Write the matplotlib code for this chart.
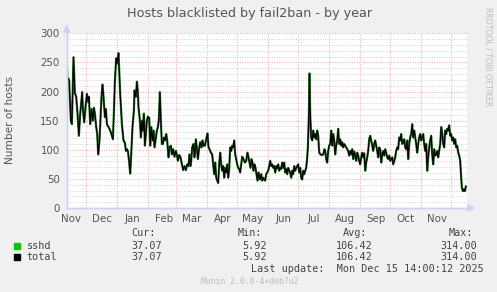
import datetime as dt
import matplotlib
matplotlib.use("Agg")
import matplotlib.pyplot as plt
from matplotlib.ticker import MultipleLocator, FixedLocator, NullFormatter, FixedFormatter
from matplotlib.patches import Rectangle, Polygon

# ---------------- data ----------------
start = dt.datetime(2024, 11, 11, 10)
month_starts = [dt.datetime(2024, 12, 1)] + [dt.datetime(2025, m, 1) for m in range(1, 13)]
month_labels = ["Nov", "Dec", "Jan", "Feb", "Mar", "Apr", "May", "Jun", "Jul", "Aug", "Sep", "Oct", "Nov"]

days = [0, 0.8, 1.8, 2.5, 2.8, 4.2, 5.2, 6.8, 8.2, 8.8, 9.5, 10.8, 12.2, 13.5, 15.5, 16.2, 17.5, 18.8, 20.2,
        21.5, 22.2, 23.5, 24.8, 26.2, 27.2, 28.2, 29.5, 30.5, 31.5, 32.8, 34.8, 35.8, 36.8, 38.2, 39.2, 40.2,
        42.8, 44.2, 46.2, 47.2, 48.2, 49.5, 50.2, 51.8, 53.5, 55.2, 56.8, 58.2, 59.2, 60.2, 61.2, 62.5,
        63.5, 64.5, 65.8, 67.2, 67.8, 69.2, 70.2, 71.2, 71.8, 73.2, 74.2, 75.2, 76.2, 77.2, 78.2, 79.2, 80.2,
        81.2, 82.5, 83.5, 84.5, 85.8, 86.8, 87.8, 89.2, 90.2, 91.2, 92.2, 93.2, 94.2, 95.2, 96.2, 97.2, 98.5,
        99.5, 100.5, 101.8, 102.8, 104.2, 105.2, 106.5, 107.8, 109.2, 110.2, 111.2, 112.5, 113.8, 115.2,
        116.5, 117.8, 119.2, 120.5, 121.8, 122.8, 123.8, 124.5, 125.5, 126.8, 127.8, 129.2, 130.2, 131.2,
        132.5, 133.5, 134.8, 135.8, 136.8, 138.2, 139.5, 140.8, 141.8, 142.8, 144.2, 145.5, 146.5, 147.5,
        148.5, 149.5, 151.5, 152.5, 153.5, 154.5, 155.5, 156.5, 157.5, 158.5, 159.5, 160.5, 161.5, 162.5,
        163.5, 164.5, 165.5, 166.5, 167.5, 168.5, 169.5, 170.5, 171.5, 172.5, 173.5, 174.5, 175.5, 176.8,
        178.2, 179.5, 180.8, 181.8, 182.8, 183.8, 184.8, 185.8, 186.8, 187.8, 188.8, 189.8, 190.8, 191.8,
        192.8, 193.5, 194.5, 195.5, 196.5, 197.5, 198.5, 199.5, 200.5, 201.5, 202.5, 203.5, 204.5, 205.5,
        206.5, 207.5, 208.5, 209.5, 210.5, 211.5, 212.5, 213.5, 214.5, 215.5, 216.5, 217.5, 218.5, 219.5,
        220.5, 221.5, 222.5, 223.5, 224.5, 225.5, 226.5, 227.5, 228.5, 229.5, 230.5, 231.5, 232.5, 233.5,
        234.5, 235.5, 236.5, 237.5, 238.5, 239.5, 240.5, 241.2, 242.2, 242.8, 243.5, 244.5, 245.5, 246.5,
        247.5, 248.5, 249.5, 250.5, 251.5, 252.5, 253.8, 255.2, 256.5, 257.8, 258.5, 259.5, 260.5, 261.5,
        262.5, 263.5, 264.5, 265.5, 266.5, 267.5, 268.5, 269.5, 270.5, 271.5, 272.5, 273.5, 274.5, 275.5,
        276.5, 277.5, 278.5, 279.5, 280.5, 281.5, 282.5, 283.5, 284.5, 285.5, 286.5, 287.5, 288.5, 289.5,
        290.5, 291.5, 292.5, 293.5, 294.5, 295.5, 296.5, 297.5, 298.5, 299.5, 300.5, 301.5, 302.5, 303.5,
        304.5, 305.5, 306.5, 307.5, 308.5, 309.5, 310.5, 311.5, 312.5, 313.5, 314.5, 315.5, 316.5, 317.5,
        318.5, 319.5, 320.5, 321.5, 322.5, 323.5, 324.5, 325.5, 326.5, 327.5, 328.5, 329.5, 330.5, 331.5,
        332.5, 333.5, 334.5, 335.5, 336.5, 337.5, 338.5, 339.5, 340.5, 341.5, 342.5, 343.5, 344.5, 345.5,
        346.5, 347.5, 348.5, 349.5, 350.5, 351.5, 352.5, 353.5, 354.5, 355.5, 356.5, 357.5, 358.5, 359.5,
        360.5, 361.5, 362.5, 363.5, 364.5, 365.5, 366.5, 367.5, 368.5, 369.5, 370.5, 371.5, 372.5, 373.5,
        374.5, 375.5, 376.5, 377.5, 378.5, 379.5, 380.5, 381.5, 382.5, 383.5, 384.5, 385.5, 386.5, 387.5,
        388.5, 389.5, 390.5, 391.5, 392.5, 393.5, 394.5, 395.2, 396.2, 397.2, 398.2, 399.2]

hosts = [250, 222, 222, 219, 202, 150, 144, 259, 196, 195, 191, 162, 124, 162, 199, 170, 147, 173, 196,
         182, 191, 144, 170, 150, 172, 162, 139, 127, 92, 116, 191, 212, 191, 156, 170, 144,
         136, 130, 118, 165, 219, 257, 248, 266, 196, 144, 116, 112, 98, 101, 98, 78,
         59, 92, 139, 167, 202, 191, 217, 199, 173, 150, 121, 150, 133, 162, 107, 127, 150,
         157, 155, 107, 139, 116, 133, 104, 121, 133, 139, 153, 199, 147, 110, 110, 121, 116,
         127, 116, 87, 104, 107, 92, 101, 88, 98, 91, 81, 91, 87, 75,
         65, 72, 65, 75, 72, 92, 72, 81, 104, 110, 87, 118, 101, 84,
         104, 113, 104, 116, 107, 107, 118, 128, 104, 101, 95, 92, 75, 58,
         78, 52, 43, 75, 95, 75, 64, 72, 52, 69, 61, 75, 52, 67,
         104, 98, 107, 104, 116, 92, 84, 75, 69, 67, 61, 75, 88, 84,
         78, 81, 95, 87, 78, 69, 84, 78, 64, 75, 69, 58, 47, 61,
         52, 49, 58, 47, 52, 49, 47, 58, 61, 64, 72, 81, 72, 75,
         69, 72, 61, 72, 68, 75, 64, 69, 67, 78, 69, 78, 61, 67,
         58, 69, 64, 61, 52, 64, 58, 72, 64, 69, 72, 75, 61, 69,
         52, 49, 64, 58, 64, 69, 87, 104, 162, 231, 162, 121, 116, 133,
         121, 127, 118, 133, 124, 95, 92, 91, 92, 101, 98, 84, 78, 98,
         107, 110, 133, 107, 127, 116, 92, 107, 116, 136, 110, 118, 107, 113,
         104, 110, 107, 104, 101, 98, 90, 98, 92, 101, 84, 97, 90, 81,
         95, 90, 81, 75, 87, 95, 87, 94, 64, 78, 87, 98, 118, 124,
         116, 107, 98, 110, 116, 107, 98, 87, 104, 101, 78, 92, 98, 90,
         101, 95, 87, 84, 90, 81, 84, 87, 75, 81, 87, 98, 104, 101,
         121, 116, 127, 110, 113, 118, 104, 101, 116, 84, 110, 121, 127, 144,
         121, 133, 121, 110, 95, 110, 121, 127, 116, 121, 127, 110, 98, 110,
         64, 87, 104, 116, 124, 92, 75, 101, 90, 92, 98, 87, 98, 110,
         139, 127, 110, 104, 133, 127, 136, 133, 142, 124, 127, 116, 121, 110,
         118, 104, 107, 95, 90, 81, 52, 35, 29, 32, 29, 37.07]

series_names = ["sshd", "total"]
series_colors = ["#00CC00", "#000000"]
cur_vals = ["37.07", "37.07"]
min_vals = ["5.92", "5.92"]
avg_vals = ["106.42", "106.42"]
max_vals = ["314.00", "314.00"]

title = "Hosts blacklisted by fail2ban - by year"
ylabel = "Number of hosts"
last_update = "Last update:  Mon Dec 15 14:00:12 2025"
footer = "Munin 2.0.6-4+deb7u2"
watermark = "RRDTOOL / TOBI OETIKER"

# ---------------- figure ----------------
W, H = 497, 292
fig = plt.figure(figsize=(W / 100, H / 100), dpi=100, facecolor="#F0F0F0")

def fx(px):
    return px / W

def fy(py):
    return 1 - py / H

left, right, top, bottom = 66.7, 466.7, 33.3, 208.0
ax = fig.add_axes([fx(left), fy(bottom), (right - left) / W, (bottom - top) / H])
ax.set_facecolor("white")
ax.set_xlim(0, 400)
ax.set_ylim(0, 300)

month_pos = [(m - start).total_seconds() / 86400 for m in month_starts]
label_pos = [month_pos[0] - 15.5] + [p + 15.5 for p in month_pos[:-1]]

# grids
dot = (0, (1, 1.5))
ax.yaxis.set_major_locator(MultipleLocator(50))
ax.yaxis.set_minor_locator(MultipleLocator(10))
ax.xaxis.set_major_locator(FixedLocator(month_pos))
ax.xaxis.set_major_formatter(NullFormatter())
ax.xaxis.set_minor_locator(FixedLocator(label_pos))
ax.xaxis.set_minor_formatter(FixedFormatter(month_labels))
ax.grid(which="minor", axis="y", color="#D4D4D4", linestyle=dot, linewidth=0.7)
ax.grid(which="major", axis="both", color="#F2A6A6", linestyle=dot, linewidth=0.7)
ax.set_axisbelow(True)

ax.tick_params(axis="both", which="both", length=0, colors="#555555", labelsize=7.4)
ax.tick_params(axis="y", pad=5)
ax.tick_params(axis="x", which="minor", pad=4)
for lbl in ax.get_xticklabels(minor=True):
    lbl.set_clip_on(False)

for s in ["top", "right"]:
    ax.spines[s].set_visible(False)
for s in ["left", "bottom"]:
    ax.spines[s].set_color("#D0D0FA")
    ax.spines[s].set_linewidth(1.0)
    ax.spines[s].set_zorder(0.5)

# axis arrow heads (in figure pixels)
ac = "#D0D0FA"
xa = [(right + 8) / W, (right + 1) / W, (right + 1) / W]
ya = [fy(bottom), fy(bottom - 3), fy(bottom + 3)]
fig.patches.append(Polygon(list(zip(xa, ya)), closed=True, transform=fig.transFigure, color=ac))
xb = [fx(left), fx(left - 3), fx(left + 3)]
yb = [fy(top - 8), fy(top - 1), fy(top - 1)]
fig.patches.append(Polygon(list(zip(xb, yb)), closed=True, transform=fig.transFigure, color=ac))
fig.add_artist(matplotlib.lines.Line2D([fx(left), fx(left)], [fy(bottom), fy(top - 2)], color=ac, lw=1.0))
fig.add_artist(matplotlib.lines.Line2D([fx(left), fx(right + 2)], [fy(bottom), fy(bottom)], color=ac, lw=1.0))

# data lines
ax.plot(days, hosts, color="#2E7D2E", linewidth=1.6, solid_joinstyle="round", zorder=3)
ax.plot(days, hosts, color=series_colors[1], linewidth=0.85, solid_joinstyle="round", zorder=4)

# texts
fig.text(fx(250), fy(13), title, ha="center", va="center", fontsize=9.2, color="#555555")
fig.text(fx(10), fy(120), ylabel, ha="center", va="center", rotation=90, fontsize=7.6, color="#555555")
fig.text(fx(488), fy(57), watermark, ha="center", va="center", rotation=-90, fontsize=5.6, color="#BBBBBB")

mono = "DejaVu Sans Mono"
fs = 7.3
tc = "#444444"
fig.text(fx(131.7), fy(233.3), "Cur:", ha="left", va="center", family=mono, fontsize=fs, color=tc)
fig.text(fx(237.7), fy(233.3), "Min:", ha="left", va="center", family=mono, fontsize=fs, color=tc)
fig.text(fx(343.3), fy(233.3), "Avg:", ha="left", va="center", family=mono, fontsize=fs, color=tc)
fig.text(fx(448.3), fy(233.3), "Max:", ha="left", va="center", family=mono, fontsize=fs, color=tc)
rows_y = [245.7, 257.3]
for i, name in enumerate(series_names):
    y = rows_y[i]
    fig.patches.append(Rectangle((fx(14), fy(y + 3)), 6 / W, 6 / H,
                                 transform=fig.transFigure, color=series_colors[i]))
    fig.text(fx(26.5), fy(y), name, ha="left", va="center", family=mono, fontsize=fs, color=tc)
    fig.text(fx(161.7), fy(y), cur_vals[i], ha="right", va="center", family=mono, fontsize=fs, color=tc)
    fig.text(fx(267.3), fy(y), min_vals[i], ha="right", va="center", family=mono, fontsize=fs, color=tc)
    fig.text(fx(372.7), fy(y), avg_vals[i], ha="right", va="center", family=mono, fontsize=fs, color=tc)
    fig.text(fx(477.3), fy(y), max_vals[i], ha="right", va="center", family=mono, fontsize=fs, color=tc)
fig.text(fx(483.3), fy(269.3), last_update, ha="right", va="center", family=mono, fontsize=fs, color=tc)
fig.text(fx(250), fy(281), footer, ha="center", va="center", family=mono, fontsize=5.8, color="#BBBBBB")

fig.savefig("out.png", dpi=100, facecolor=fig.get_facecolor())
